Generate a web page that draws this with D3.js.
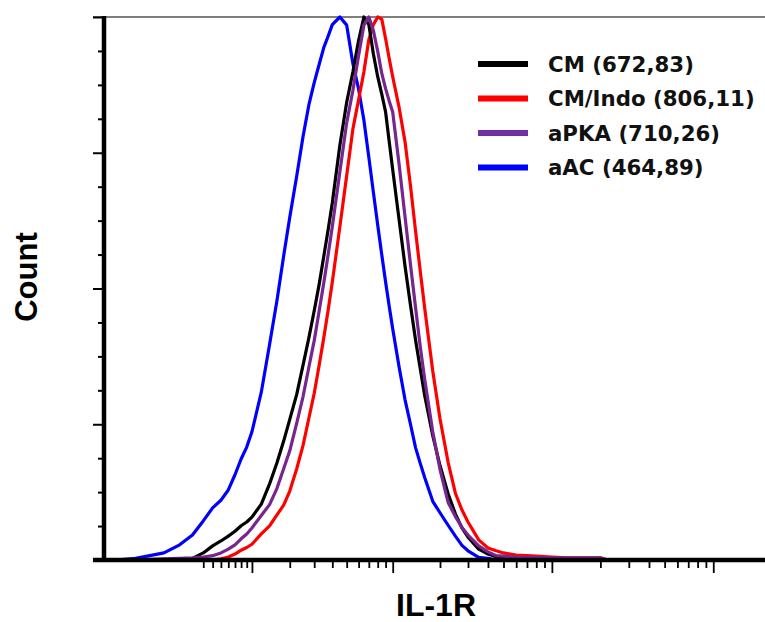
<!DOCTYPE html>
<html><head><meta charset="utf-8">
<script src="https://cdn.jsdelivr.net/npm/d3@7"></script>
<style>html,body{margin:0;padding:0;background:#fff;}svg{display:block;}</style>
</head><body>
<svg id="chart" width="765" height="622"></svg>
<script>
// ---- data (fluorescence intensity grid, % of max count) ----
const intensity = [-40, -20, 0, 10, 20, 30, 40, 50, 60, 70, 80, 90, 100, 120, 140, 160, 180, 200, 225, 250, 275, 300, 325, 350, 375, 400, 450, 500, 550, 600, 650, 700, 750, 800, 850, 900, 950, 1000, 1100, 1200, 1300, 1400, 1500, 1600, 1800, 2000, 2250, 2500, 2750, 3000, 3500, 4000, 4500, 5000, 6000, 7000, 8000, 10000, 12500, 15000, 20000, 22000];

const seriesNames = ["CM (672,83)", "CM/Indo (806,11)", "aPKA (710,26)", "aAC (464,89)"];
const seriesColors = ["#000000", "#ff0000", "#782491", "#0000ff"];

const cmValues = [0, 0, 0, 0, 0.3, 1.3, 2.6, 3.5, 4.4, 5.3, 6.3, 7.0, 7.9, 10.3, 14.0, 17.9, 21.9, 25.9, 30.5, 35.9, 40.9, 45.9, 50.8, 56.0, 60.9, 65.8, 76.4, 84.3, 89.9, 95.7, 100, 98.6, 93.2, 89.0, 85.8, 82.5, 77.0, 71.9, 62.6, 54.1, 46.9, 40.5, 35.2, 30.3, 22.9, 17.4, 12.2, 8.5, 5.9, 4.2, 2.0, 1.1, 0.6, 0.35, 0.2, 0, 0, 0, 0, 0, 0, 0];

const cmIndoValues = [0, 0, 0, 0, 0, 0, 0, 0.2, 0.55, 1.1, 1.8, 2.3, 2.9, 4.8, 6.3, 8.3, 10.1, 12.7, 16.8, 21.1, 26.1, 30.7, 35.9, 41.0, 46.1, 51.2, 61.4, 70.8, 79.4, 84.8, 89.9, 95.8, 98.6, 100, 99.6, 96.0, 92.3, 89.0, 83.3, 77.0, 68.9, 60.6, 53.2, 46.4, 34.8, 26.0, 18.0, 12.3, 9.2, 7.0, 3.7, 2.2, 1.7, 1.3, 0.9, 0.8, 0.7, 0.55, 0.4, 0.4, 0.4, 0];

const aPKAValues = [0, 0, 0.2, 0.3, 0.4, 0.55, 0.8, 1.3, 2.0, 2.8, 3.9, 4.8, 5.9, 8.2, 10.2, 13.2, 16.8, 20.1, 25.2, 30.1, 35.5, 40.4, 45.9, 51.1, 56.3, 61.4, 71.5, 80.5, 86.5, 92.9, 98.5, 100, 97.5, 93.7, 89.6, 86.8, 84.5, 82.5, 72.8, 63.2, 54.4, 46.5, 39.3, 33.3, 23.6, 16.7, 10.6, 8.0, 6.0, 4.6, 2.6, 1.5, 0.8, 0.7, 0.55, 0.5, 0.45, 0.4, 0.4, 0.4, 0.4, 0];

const aACValues = [0, 0.3, 1.3, 2.8, 4.6, 7.2, 9.6, 11.0, 12.9, 15.7, 18.6, 20.8, 23.6, 30.9, 39.7, 47.8, 56.0, 63.1, 70.7, 78.0, 83.8, 87.9, 91.3, 94.4, 96.5, 98.6, 100, 98.5, 91.4, 86.7, 81.0, 74.2, 67.7, 61.7, 56.2, 51.2, 46.7, 42.6, 35.5, 29.5, 25.0, 20.7, 17.8, 15.2, 10.8, 8.7, 6.4, 4.4, 2.7, 1.7, 0.5, 0.3, 0, 0, 0, 0, 0, 0, 0, 0, 0, 0];

const drawOrder = [3, 1, 0, 2]; // aAC, CM/Indo, CM, aPKA
const yMajorTicks = [0, 25, 50, 75, 100];
const yMinorTicks = [6.25, 12.5, 18.75, 31.25, 37.5, 43.75, 56.25, 62.5, 68.75, 81.25, 87.5, 93.75];
const xMajorTicks = [100, 1000, 10000, 100000];
const xMinorTicks = [30, 40, 50, 60, 70, 80, 90,
  200, 300, 400, 500, 600, 700, 800, 900,
  2000, 3000, 4000, 5000, 6000, 7000, 8000, 9000,
  20000, 30000, 40000, 50000, 60000, 70000, 80000, 90000];
const xLabel = "IL-1R";
const yLabel = "Count";

// ---- chart ----
const allValues = [cmValues, cmIndoValues, aPKAValues, aACValues];
const svg = d3.select("#chart");

const x = d3.scaleSymlog().constant(40).domain([-54, 209000]).range([104, 765]);
const y = d3.scaleLinear().domain([0, 100]).range([560, 17]);

// top frame line
svg.append("line")
  .attr("x1", x.range()[0] - 11).attr("x2", x.range()[1])
  .attr("y1", y(100)).attr("y2", y(100))
  .attr("stroke", "#555").attr("stroke-width", 1.6);

// curves
const line = d3.line()
  .x((d) => x(d[0]))
  .y((d) => y(d[1]))
  .curve(d3.curveLinear);

drawOrder.forEach((i) => {
  const pts = intensity.map((v, k) => [v, allValues[i][k]]);
  svg.append("path")
    .datum(pts)
    .attr("d", line)
    .attr("fill", "none")
    .attr("stroke", seriesColors[i])
    .attr("stroke-width", 3.2)
    .attr("stroke-linejoin", "round");
});

// x axis
function styleTicks(g, w) {
  g.select(".domain").remove();
  g.selectAll(".tick line").attr("stroke", "#000").attr("stroke-width", w);
  g.selectAll(".tick text").remove();
}
svg.append("g")
  .attr("transform", `translate(0,${y(0)})`)
  .call(d3.axisBottom(x).tickValues(xMinorTicks).tickSize(8).tickSizeOuter(0).tickFormat(""))
  .call((g) => styleTicks(g, 1.8));
svg.append("g")
  .attr("transform", `translate(0,${y(0)})`)
  .call(d3.axisBottom(x).tickValues(xMajorTicks).tickSize(13).tickSizeOuter(0).tickFormat(""))
  .call((g) => styleTicks(g, 1.8));
svg.append("line")
  .attr("x1", x.range()[0] - 11).attr("x2", x.range()[1])
  .attr("y1", y(0)).attr("y2", y(0))
  .attr("stroke", "#000").attr("stroke-width", 4.5);

// y axis
svg.append("g")
  .attr("transform", `translate(${x.range()[0]},0)`)
  .call(d3.axisLeft(y).tickValues(yMinorTicks).tickSize(6).tickSizeOuter(0).tickFormat(""))
  .call((g) => styleTicks(g, 2));
svg.append("g")
  .attr("transform", `translate(${x.range()[0]},0)`)
  .call(d3.axisLeft(y).tickValues(yMajorTicks).tickSize(11).tickSizeOuter(0).tickFormat(""))
  .call((g) => styleTicks(g, 2));
svg.append("line")
  .attr("x1", x.range()[0]).attr("x2", x.range()[0])
  .attr("y1", y(100) - 1).attr("y2", y(0) + 2)
  .attr("stroke", "#000").attr("stroke-width", 4.5);

// axis labels
svg.append("text")
  .attr("x", 436).attr("y", 616)
  .attr("text-anchor", "middle")
  .attr("font-family", "'Liberation Sans', Arial, sans-serif")
  .attr("font-weight", "bold").attr("font-size", 32)
  .text(xLabel);
svg.append("text")
  .attr("transform", "translate(37,277) rotate(-90)")
  .attr("text-anchor", "middle")
  .attr("font-family", "'Liberation Sans', Arial, sans-serif")
  .attr("font-weight", "bold").attr("font-size", 31)
  .text(yLabel);

// legend
const legend = svg.append("g").attr("transform", "translate(478,64)");
seriesNames.forEach((name, i) => {
  const g = legend.append("g").attr("transform", `translate(0,${i * 34.5})`);
  g.append("line").attr("x1", 0).attr("x2", 50).attr("y1", 0).attr("y2", 0)
    .attr("stroke", i === 2 ? "#7030a0" : seriesColors[i]).attr("stroke-width", 6);
  g.append("text").attr("x", 70).attr("y", 7.8)
    .attr("font-family", "'DejaVu Sans', Verdana, sans-serif")
    .attr("font-weight", "bold").attr("font-size", 21.3)
    .attr("fill", "#111")
    .text(name);
});
</script>
</body></html>
